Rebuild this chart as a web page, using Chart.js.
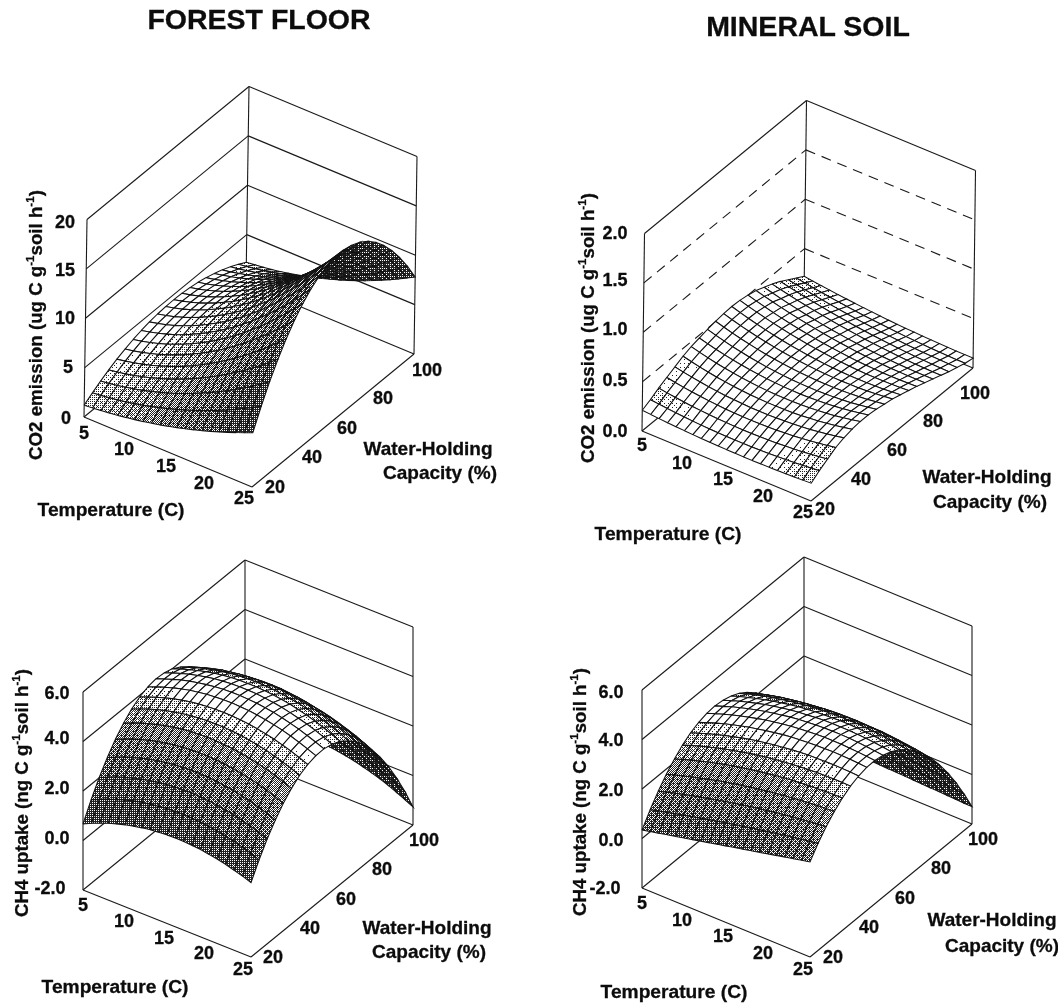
<!DOCTYPE html>
<html><head><meta charset="utf-8"><title>Forest floor and mineral soil response surfaces</title>
<script src="https://cdn.jsdelivr.net/npm/chart.js@4"></script>
<style>
html,body{margin:0;padding:0;background:#fff}
#wrap{position:relative;width:1058px;height:1003px;overflow:hidden;font-family:"Liberation Sans",Arial,sans-serif;font-weight:bold;color:#0c0c0c;-webkit-text-stroke:.3px #0c0c0c}
#wrap span{position:absolute;white-space:nowrap;transform:translate(-50%,-50%);line-height:1}
#wrap sup{font-size:62%;line-height:0;vertical-align:super}
canvas{position:absolute;left:0;top:0}
</style></head><body><div id="wrap"><canvas id="c" width="1058" height="1003"></canvas></div>
<script>
// ---------- data ----------
const titles = ["FOREST FLOOR","MINERAL SOIL"];
const tempTicks = [5,10,15,20,25];
const whcTicks = [20,40,60,80,100];
const co2ForestTicks = ["0","5","10","15","20"];
const co2MineralTicks = ["0.0","0.5","1.0","1.5","2.0"];
const ch4Ticks = ["-2.0","0.0","2.0","4.0","6.0"];
const tempGrid = [5,6,7,8,9,10,11,12,13,14,15,16,17,18,19,20,21,22,23,24,25];
const whcGrid = [20,24,28,32,36,40,44,48,52,56,60,64,68,72,76,80,84,88,92,96,100];
// each row is one water-holding value, each column one temperature
const forestCO2 = [
[1.2,1.27,1.36,1.46,1.58,1.71,1.86,2.02,2.2,2.39,2.6,2.82,3.06,3.31,3.58,3.86,4.16,4.47,4.8,5.14,5.5],
[1.77,1.87,1.98,2.12,2.27,2.45,2.65,2.86,3.11,3.36,3.64,3.93,4.25,4.58,4.94,5.32,5.71,6.13,6.57,7.02,7.5],
[2.29,2.41,2.55,2.72,2.91,3.12,3.37,3.63,3.92,4.23,4.58,4.93,5.33,5.73,6.17,6.63,7.11,7.62,8.16,8.72,9.3],
[2.75,2.89,3.05,3.25,3.47,3.72,4.01,4.31,4.65,5.01,5.41,5.83,6.28,6.76,7.27,7.8,8.36,8.96,9.58,10.23,10.91],
[3.16,3.32,3.5,3.72,3.97,4.25,4.57,4.91,5.29,5.69,6.14,6.61,7.12,7.65,8.23,8.82,9.46,10.12,10.82,11.55,12.31],
[3.51,3.68,3.88,4.12,4.39,4.7,5.05,5.42,5.84,6.28,6.77,7.28,7.84,8.42,9.06,9.71,10.4,11.13,11.89,12.69,13.52],
[3.81,3.99,4.21,4.46,4.75,5.09,5.46,5.86,6.31,6.78,7.3,7.85,8.45,9.07,9.75,10.45,11.19,11.97,12.78,13.64,14.53],
[4.05,4.24,4.47,4.74,5.04,5.39,5.79,6.21,6.68,7.18,7.73,8.31,8.94,9.59,10.3,11.04,11.82,12.64,13.5,14.4,15.34],
[4.24,4.44,4.67,4.95,5.27,5.63,6.04,6.48,6.97,7.48,8.06,8.65,9.31,9.99,10.73,11.49,12.3,13.15,14.04,14.98,15.95],
[4.37,4.57,4.81,5.1,5.43,5.8,6.22,6.66,7.16,7.69,8.28,8.89,9.56,10.26,11.01,11.79,12.62,13.49,14.41,15.36,16.36],
[4.45,4.66,4.9,5.19,5.52,5.89,6.32,6.77,7.28,7.81,8.4,9.02,9.7,10.41,11.17,11.96,12.8,13.68,14.6,15.57,16.58],
[4.47,4.68,4.92,5.21,5.54,5.91,6.34,6.78,7.29,7.83,8.42,9.04,9.72,10.42,11.18,11.97,12.81,13.69,14.61,15.58,16.59],
[4.44,4.64,4.88,5.17,5.49,5.86,6.28,6.73,7.23,7.76,8.34,8.95,9.62,10.32,11.07,11.85,12.68,13.55,14.46,15.42,16.41],
[4.35,4.55,4.78,5.06,5.38,5.74,6.15,6.58,7.07,7.59,8.16,8.75,9.41,10.08,10.82,11.58,12.39,13.24,14.13,15.06,16.03],
[4.21,4.4,4.63,4.9,5.2,5.55,5.94,6.36,6.83,7.32,7.87,8.45,9.08,9.73,10.44,11.17,11.94,12.76,13.62,14.52,15.45],
[4.01,4.19,4.4,4.66,4.95,5.28,5.65,6.05,6.49,6.96,7.49,8.03,8.63,9.24,9.92,10.61,11.34,12.12,12.93,13.79,14.67],
[3.76,3.93,4.13,4.37,4.63,4.94,5.29,5.66,6.07,6.51,7.0,7.5,8.06,8.64,9.26,9.91,10.59,11.32,12.07,12.87,13.69],
[3.45,3.6,3.79,4.0,4.25,4.53,4.85,5.18,5.56,5.96,6.41,6.87,7.38,7.9,8.47,9.06,9.69,10.35,11.04,11.77,12.52],
[3.09,3.23,3.39,3.58,3.8,4.05,4.33,4.63,4.97,5.32,5.71,6.12,6.58,7.04,7.55,8.07,8.63,9.22,9.83,10.47,11.14],
[2.67,2.79,2.93,3.09,3.28,3.49,3.73,3.99,4.28,4.58,4.92,5.27,5.66,6.06,6.49,6.94,7.42,7.92,8.45,9.0,9.57],
[2.2,2.3,2.41,2.54,2.69,2.87,3.06,3.27,3.5,3.75,4.03,4.31,4.62,4.95,5.3,5.67,6.05,6.46,6.89,7.34,7.8]];
const mineralCO2 = [
[.21,.203,.196,.19,.185,.18,.176,.172,.169,.167,.165,.164,.163,.163,.164,.165,.167,.169,.172,.176,.18],
[.25,.24,.231,.223,.216,.21,.205,.201,.198,.196,.195,.195,.196,.198,.201,.205,.21,.216,.223,.231,.24],
[.3,.287,.276,.265,.256,.249,.242,.237,.234,.231,.23,.23,.232,.234,.238,.244,.25,.258,.268,.278,.29],
[.34,.325,.311,.299,.289,.28,.273,.267,.263,.261,.26,.261,.263,.267,.273,.28,.289,.299,.311,.325,.34],
[.38,.362,.347,.333,.32,.31,.301,.295,.29,.286,.285,.285,.288,.292,.297,.305,.314,.326,.339,.353,.37],
[.42,.4,.381,.365,.35,.338,.327,.319,.312,.308,.305,.305,.306,.31,.315,.323,.332,.344,.357,.373,.39],
[.45,.428,.407,.389,.373,.359,.347,.337,.329,.324,.32,.319,.319,.322,.327,.334,.343,.354,.367,.383,.4],
[.47,.447,.425,.406,.389,.374,.361,.35,.341,.335,.33,.328,.327,.329,.333,.339,.347,.357,.369,.384,.4],
[.49,.465,.442,.421,.403,.386,.372,.359,.349,.341,.335,.331,.329,.329,.332,.336,.343,.351,.362,.375,.39],
[.505,.48,.456,.435,.415,.398,.382,.369,.357,.348,.34,.335,.331,.33,.33,.333,.337,.344,.352,.363,.375],
[.515,.489,.465,.443,.423,.405,.389,.374,.362,.351,.343,.336,.331,.328,.327,.328,.33,.335,.341,.35,.36],
[.52,.494,.469,.446,.425,.406,.389,.373,.36,.348,.338,.329,.323,.318,.315,.314,.314,.317,.321,.327,.335],
[.515,.49,.466,.444,.423,.404,.386,.371,.356,.344,.333,.323,.315,.309,.304,.301,.3,.3,.302,.305,.31],
[.5,.475,.452,.43,.409,.39,.373,.357,.342,.329,.318,.308,.299,.292,.287,.283,.28,.279,.28,.282,.285],
[.48,.456,.434,.413,.393,.375,.358,.342,.328,.314,.303,.292,.283,.275,.268,.263,.258,.256,.254,.254,.255],
[.445,.423,.401,.381,.363,.345,.329,.313,.299,.287,.275,.265,.255,.247,.241,.235,.231,.227,.225,.225,.225],
[.41,.39,.371,.352,.335,.319,.304,.289,.276,.264,.253,.242,.233,.225,.218,.211,.206,.202,.199,.196,.195],
[.37,.351,.333,.316,.3,.285,.271,.257,.245,.233,.223,.213,.204,.196,.189,.183,.177,.173,.169,.167,.165],
[.32,.303,.288,.273,.258,.245,.232,.221,.21,.199,.19,.181,.174,.167,.16,.155,.15,.147,.144,.141,.14],
[.27,.256,.242,.229,.217,.205,.194,.184,.174,.166,.158,.15,.143,.137,.132,.128,.124,.12,.118,.116,.115],
[.22,.208,.197,.187,.177,.168,.159,.151,.143,.136,.13,.124,.119,.115,.111,.108,.105,.103,.101,.1,.1]];
const forestCH4 = [
[.67,.83,.97,1.1,1.21,1.31,1.39,1.46,1.52,1.55,1.58,1.59,1.58,1.56,1.53,1.47,1.41,1.33,1.23,1.13,1],
[1.38,1.53,1.67,1.8,1.91,2.01,2.09,2.15,2.2,2.24,2.26,2.27,2.26,2.24,2.2,2.15,2.08,2,1.9,1.79,1.66],
[2.01,2.16,2.3,2.42,2.53,2.62,2.7,2.76,2.81,2.85,2.87,2.87,2.86,2.83,2.79,2.74,2.67,2.58,2.48,2.37,2.24],
[2.55,2.7,2.84,2.96,3.07,3.16,3.23,3.29,3.34,3.37,3.39,3.39,3.38,3.35,3.3,3.25,3.17,3.09,2.98,2.87,2.73],
[3.02,3.17,3.3,3.42,3.52,3.61,3.68,3.74,3.78,3.81,3.83,3.83,3.81,3.78,3.73,3.67,3.6,3.51,3.4,3.28,3.15],
[3.4,3.55,3.68,3.79,3.89,3.98,4.05,4.11,4.15,4.17,4.19,4.18,4.16,4.13,4.08,4.02,3.94,3.85,3.74,3.62,3.48],
[3.71,3.85,3.98,4.09,4.19,4.27,4.34,4.39,4.43,4.46,4.46,4.46,4.44,4.4,4.35,4.29,4.21,4.11,4,3.88,3.74],
[3.93,4.07,4.19,4.3,4.4,4.48,4.55,4.6,4.63,4.65,4.66,4.65,4.63,4.59,4.54,4.47,4.39,4.29,4.18,4.05,3.91],
[4.07,4.21,4.33,4.44,4.53,4.61,4.67,4.72,4.75,4.77,4.78,4.76,4.74,4.7,4.64,4.57,4.49,4.39,4.27,4.14,4],
[4.13,4.26,4.38,4.49,4.58,4.65,4.71,4.76,4.79,4.81,4.81,4.79,4.77,4.72,4.67,4.59,4.5,4.4,4.28,4.15,4.01],
[4.1,4.24,4.35,4.46,4.54,4.62,4.68,4.72,4.75,4.76,4.76,4.75,4.71,4.67,4.61,4.53,4.44,4.34,4.22,4.08,3.93],
[4,4.13,4.24,4.34,4.43,4.5,4.56,4.6,4.62,4.63,4.63,4.61,4.58,4.53,4.47,4.39,4.3,4.19,4.07,3.93,3.78],
[3.81,3.94,4.05,4.15,4.23,4.3,4.36,4.39,4.42,4.43,4.42,4.4,4.36,4.31,4.25,4.17,4.07,3.96,3.84,3.7,3.54],
[3.55,3.67,3.78,3.88,3.96,4.02,4.07,4.11,4.13,4.14,4.13,4.11,4.07,4.01,3.95,3.86,3.77,3.65,3.53,3.38,3.23],
[3.2,3.32,3.43,3.52,3.6,3.66,3.71,3.74,3.76,3.77,3.76,3.73,3.69,3.63,3.56,3.48,3.38,3.26,3.13,2.99,2.83],
[2.77,2.89,2.99,3.08,3.16,3.22,3.27,3.3,3.31,3.31,3.3,3.27,3.23,3.17,3.1,3.01,2.91,2.79,2.66,2.51,2.35],
[2.26,2.38,2.48,2.57,2.64,2.7,2.74,2.77,2.78,2.78,2.77,2.73,2.69,2.63,2.55,2.46,2.36,2.24,2.1,1.95,1.79],
[1.67,1.78,1.88,1.97,2.04,2.09,2.13,2.16,2.17,2.17,2.15,2.11,2.07,2,1.93,1.83,1.72,1.6,1.46,1.31,1.15],
[.99,1.1,1.2,1.28,1.35,1.41,1.44,1.47,1.48,1.47,1.45,1.41,1.36,1.3,1.22,1.12,1.01,.89,.75,.59,.42],
[.24,.35,.44,.52,.59,.64,.67,.69,.7,.69,.67,.63,.58,.51,.43,.33,.22,.09,-.06,-.21,-.38],
[-.6,-.49,-.4,-.32,-.26,-.21,-.18,-.16,-.16,-.17,-.19,-.23,-.29,-.36,-.45,-.55,-.66,-.79,-.94,-1.1,-1.27]];
const mineralCH4 = [
[.34,.42,.49,.57,.64,.72,.79,.87,.94,1.02,1.09,1.17,1.24,1.32,1.39,1.47,1.54,1.62,1.69,1.77,1.84],
[.89,.98,1.06,1.15,1.23,1.31,1.39,1.47,1.54,1.62,1.69,1.76,1.83,1.9,1.96,2.02,2.09,2.15,2.21,2.26,2.32],
[1.37,1.47,1.57,1.66,1.75,1.83,1.91,1.99,2.07,2.14,2.21,2.28,2.34,2.4,2.46,2.51,2.56,2.61,2.65,2.69,2.73],
[1.79,1.9,2,2.1,2.19,2.28,2.37,2.45,2.52,2.59,2.66,2.72,2.78,2.83,2.88,2.92,2.96,3,3.03,3.05,3.07],
[2.14,2.26,2.37,2.47,2.57,2.66,2.75,2.83,2.9,2.97,3.03,3.09,3.14,3.19,3.23,3.26,3.29,3.31,3.33,3.34,3.35],
[2.43,2.55,2.67,2.77,2.87,2.97,3.05,3.13,3.21,3.27,3.33,3.38,3.43,3.47,3.5,3.53,3.55,3.56,3.57,3.57,3.56],
[2.66,2.78,2.9,3.01,3.11,3.2,3.29,3.37,3.44,3.5,3.56,3.6,3.65,3.68,3.71,3.72,3.73,3.74,3.73,3.72,3.7],
[2.81,2.94,3.06,3.17,3.27,3.36,3.45,3.52,3.59,3.65,3.71,3.75,3.78,3.81,3.83,3.84,3.85,3.84,3.83,3.81,3.78],
[2.91,3.03,3.15,3.26,3.36,3.45,3.53,3.61,3.67,3.73,3.78,3.82,3.85,3.87,3.89,3.89,3.89,3.87,3.85,3.82,3.79],
[2.94,3.06,3.18,3.28,3.38,3.47,3.55,3.62,3.68,3.74,3.78,3.81,3.84,3.86,3.87,3.87,3.86,3.84,3.81,3.77,3.73],
[2.9,3.02,3.14,3.24,3.33,3.42,3.49,3.56,3.62,3.67,3.7,3.74,3.76,3.77,3.77,3.77,3.75,3.73,3.7,3.66,3.61],
[2.8,2.92,3.02,3.12,3.21,3.29,3.36,3.42,3.48,3.52,3.56,3.58,3.6,3.61,3.61,3.6,3.58,3.55,3.51,3.47,3.42],
[2.64,2.75,2.85,2.94,3.02,3.09,3.16,3.21,3.26,3.3,3.33,3.35,3.37,3.37,3.37,3.35,3.33,3.3,3.26,3.21,3.16],
[2.41,2.51,2.6,2.68,2.76,2.82,2.88,2.93,2.97,3.01,3.03,3.05,3.06,3.06,3.05,3.04,3.01,2.98,2.94,2.89,2.83],
[2.12,2.2,2.28,2.36,2.42,2.48,2.53,2.57,2.61,2.64,2.66,2.67,2.68,2.67,2.66,2.65,2.62,2.59,2.55,2.5,2.44],
[1.76,1.83,1.9,1.96,2.02,2.07,2.11,2.14,2.17,2.19,2.21,2.22,2.22,2.21,2.2,2.18,2.16,2.12,2.09,2.04,1.99],
[1.33,1.39,1.45,1.5,1.54,1.58,1.61,1.64,1.66,1.68,1.69,1.69,1.69,1.68,1.67,1.65,1.62,1.59,1.55,1.51,1.46],
[.84,.89,.93,.97,1,1.02,1.05,1.06,1.08,1.08,1.09,1.09,1.08,1.07,1.06,1.04,1.01,.98,.95,.91,.87],
[.29,.32,.34,.36,.37,.39,.4,.41,.42,.42,.42,.41,.4,.39,.37,.35,.33,.31,.28,.25,.22],
[-.33,-.32,-.31,-.31,-.31,-.31,-.31,-.31,-.32,-.32,-.33,-.34,-.35,-.37,-.38,-.4,-.42,-.44,-.46,-.48,-.51],
[-1.01,-1.02,-1.04,-1.05,-1.07,-1.08,-1.1,-1.11,-1.13,-1.14,-1.16,-1.17,-1.18,-1.2,-1.21,-1.23,-1.24,-1.26,-1.27,-1.29,-1.3]];

// ---------- layout of the four boxes (screen geometry only) ----------
const panels = [
 {grid:forestCO2, zMin:0, zMax:20, zTicks:co2ForestTicks, dash:false,
  L:[84,417],F:[252,487],R:[414,354],up:[3,-197.5],
  tPos:[[84,433],[124,449],[166,466],[204,483],[244,498]],
  wPos:[[275,487],[312,457],[347,428],[383,398],[427,370]],
  zPos:[[66,418],[68,367],[65,318],[65,270],[65,222]],
  yTitle:{html:'CO2 emission (ug C g<sup>-1</sup>soil h<sup>-1</sup>)',x:36,y:325},
  tTitle:[111,510], wTitle:[[428,448],[440,472]]},
 {grid:mineralCO2, zMin:0, zMax:2, zTicks:co2MineralTicks, dash:true,
  L:[642,431],F:[811,501],R:[973,368],up:[2.5,-197.5],
  tPos:[[642,445],[682,463],[723,479],[763,496],[803,512]],
  wPos:[[825,509],[861,479],[897,450],[933,421],[975,393]],
  zPos:[[615,431],[615,380],[615,329],[615,280],[615,233]],
  yTitle:{html:'CO2 emission (ug C g<sup>-1</sup>soil h<sup>-1</sup>)',x:588,y:328},
  tTitle:[668,534], wTitle:[[987,476],[990,501]]},
 {grid:forestCH4, zMin:-2, zMax:6, zTicks:ch4Ticks, dash:false,
  L:[83,890],F:[251,957],R:[413,825],up:[0,-198],
  tPos:[[83,905],[124,921],[164,938],[204,953],[243,969]],
  wPos:[[273,957],[310,928],[346,899],[382,869],[424,840]],
  zPos:[[50,888],[57,838],[57,788],[57,738],[57,693]],
  yTitle:{html:'CH4 uptake (ng C g<sup>-1</sup>soil h<sup>-1</sup>)',x:22,y:793},
  tTitle:[115,987], wTitle:[[427,927],[429,951]]},
 {grid:mineralCH4, zMin:-2, zMax:6, zTicks:ch4Ticks, dash:false,
  L:[642,888],F:[810,957],R:[972,824],up:[0,-198],
  tPos:[[642,903],[682,920],[723,936],[763,953],[803,969]],
  wPos:[[833,957],[869,927],[905,898],[941,868],[983,839]],
  zPos:[[605,888],[611,840],[611,790],[611,740],[611,692]],
  yTitle:{html:'CH4 uptake (ng C g<sup>-1</sup>soil h<sup>-1</sup>)',x:580,y:792},
  tTitle:[674,992], wTitle:[[992,919],[1002,945]]}
];
const titlePos = [[259,19],[808,26]];

function project(p,temp,whc,z){
  const t=(temp-tempGrid[0])/(tempGrid[20]-tempGrid[0]);
  const w=(whc-whcGrid[0])/(whcGrid[20]-whcGrid[0]);
  const h=(z-p.zMin)/(p.zMax-p.zMin);
  return {x:p.L[0]+t*(p.F[0]-p.L[0])+w*(p.R[0]-p.F[0])+h*p.up[0],
          y:p.L[1]+t*(p.F[1]-p.L[1])+w*(p.R[1]-p.F[1])+h*p.up[1]};
}
function grayFor(S){
  const r=[[0,1],[.58,1],[.75,.84],[1,.66],[1.5,.46],[2.5,.27],[3.5,.16],[9,.1]];
  for(let i=1;i<r.length;i++) if(S<=r[i][0]){
    const a=r[i-1],b=r[i]; return a[1]+(b[1]-a[1])*(S-a[0])/(b[0]-a[0]);
  }
  return .1;
}
// stippled print-style shading: ordered 8x8 dither, one tile per grey level
const bayer=[[0]];
for(let n=0;n<3;n++){
  const s=bayer.length, next=[];
  for(let y=0;y<2*s;y++){next.push([]);for(let x=0;x<2*s;x++){
    const q=bayer[y%s][x%s]*4, add=[[0,2],[3,1]][Math.floor(y/s)][Math.floor(x/s)];
    next[y].push(q+add);
  }}
  bayer.length=0; next.forEach(r=>bayer.push(r));
}
const tiles={};
function tile(ctx,level){
  if(tiles[level]) return tiles[level];
  const c=document.createElement('canvas'); c.width=c.height=8;
  const g=c.getContext('2d'); g.fillStyle='#fff'; g.fillRect(0,0,8,8); g.fillStyle='#222';
  for(let y=0;y<8;y++) for(let x=0;x<8;x++) if(bayer[y][x]>=level) g.fillRect(x,y,1,1);
  return tiles[level]=ctx.createPattern(c,'repeat');
}
const datasets=[];
function addLine(a,b,dash){
  datasets.push({data:[a,b],showLine:true,pointRadius:0,borderColor:'#1a1a1a',borderWidth:1.1,borderDash:dash?[10,7]:[],fill:false,tension:0});
}
panels.forEach(p=>{
  const T0=tempGrid[0],T1=tempGrid[20],W0=whcGrid[0],W1=whcGrid[20];
  const n=p.zTicks.length, lo=p.zMin, hi=p.zMax;
  for(let k=0;k<n;k++){
    const z=lo+(hi-lo)*k/(n-1), dash=p.dash&&k>0&&k<n-1;
    addLine(project(p,T0,W0,z),project(p,T0,W1,z),dash);
    addLine(project(p,T0,W1,z),project(p,T1,W1,z),dash);
  }
  addLine(project(p,T0,W0,lo),project(p,T0,W0,hi));
  addLine(project(p,T0,W1,lo),project(p,T0,W1,hi));
  addLine(project(p,T1,W1,lo),project(p,T1,W1,hi));
  addLine(project(p,T0,W0,lo),project(p,T1,W0,lo));
  addLine(project(p,T1,W0,lo),project(p,T1,W1,lo));
  const g=p.grid, k=Math.abs(p.up[1])/(hi-lo);
  for(let j=19;j>=0;j--) for(let i=0;i<20;i++){
    const a=project(p,tempGrid[i],whcGrid[j],g[j][i]),
          b=project(p,tempGrid[i+1],whcGrid[j],g[j][i+1]),
          c=project(p,tempGrid[i+1],whcGrid[j+1],g[j+1][i+1]),
          d=project(p,tempGrid[i],whcGrid[j+1],g[j+1][i]);
    const zw=((g[j+1][i]-g[j][i])+(g[j+1][i+1]-g[j][i+1]))*10;
    const zt=((g[j][i+1]-g[j][i])+(g[j+1][i+1]-g[j+1][i]))*10;
    const S=Math.hypot(zw*k/133,zt*k/133);
    const area=(c.x-a.x)*(d.y-b.y)-(c.y-a.y)*(d.x-b.x);
    const level=Math.round(64*(area>0?.18:grayFor(S)));
    datasets.push({data:[a,b,c,d,a],showLine:true,pointRadius:0,borderColor:'#111',borderWidth:1.05,
      tension:0,fill:false,cellLevel:level});
  }
});
const cellFillPlugin={id:'cellFill',beforeDatasetDraw(chart,args){
  const ds=chart.data.datasets[args.index]; if(ds.cellLevel===undefined) return;
  const pts=args.meta.data, ctx=chart.ctx;
  ctx.save(); ctx.beginPath();
  pts.forEach((q,m)=>m?ctx.lineTo(q.x,q.y):ctx.moveTo(q.x,q.y));
  ctx.closePath(); ctx.fillStyle=tile(ctx,ds.cellLevel); ctx.fill(); ctx.restore();
}};
new Chart(document.getElementById('c'),{type:'scatter',
  data:{datasets:datasets.reverse()},
  plugins:[cellFillPlugin],
  options:{responsive:false,animation:false,events:[],layout:{padding:0},
    plugins:{legend:{display:false},tooltip:{enabled:false}},
    scales:{x:{type:'linear',min:0,max:1058,display:false},
            y:{type:'linear',min:0,max:1003,reverse:true,display:false}}}});

// ---------- text ----------
const wrap=document.getElementById('wrap');
function put(html,x,y,size,rot){
  const s=document.createElement('span'); s.innerHTML=html;
  s.style.left=x+'px'; s.style.top=y+'px'; s.style.fontSize=size+'px';
  if(rot) s.style.transform='translate(-50%,-50%) rotate(-90deg)';
  wrap.appendChild(s);
}
titles.forEach((t,i)=>put(t,titlePos[i][0],titlePos[i][1],28.5));
panels.forEach(p=>{
  tempTicks.forEach((v,i)=>put(String(v),p.tPos[i][0],p.tPos[i][1],18));
  whcTicks.forEach((v,i)=>put(String(v),p.wPos[i][0],p.wPos[i][1],18));
  p.zTicks.forEach((v,i)=>put(v,p.zPos[i][0],p.zPos[i][1],18));
  put(p.yTitle.html,p.yTitle.x,p.yTitle.y,18.7,true);
  put('Temperature (C)',p.tTitle[0],p.tTitle[1],19.2);
  put('Water-Holding',p.wTitle[0][0],p.wTitle[0][1],19);
  put('Capacity (%)',p.wTitle[1][0],p.wTitle[1][1],19);
});
</script></body></html>
